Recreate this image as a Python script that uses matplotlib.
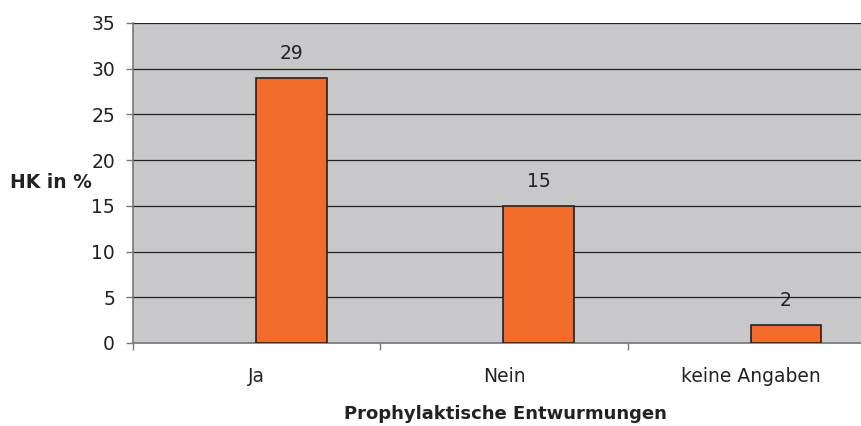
import matplotlib
matplotlib.use("Agg")
import matplotlib.pyplot as plt
from matplotlib.transforms import blended_transform_factory
import numpy as np

categories = ["Ja", "Nein", "keine Angaben"]
values = [29, 15, 2]
yticks = [0, 5, 10, 15, 20, 25, 30, 35]

BG = "#c8c8ca"
BAR = "#f26d2b"
INK = "#222222"
AXC = "#777777"
plt.rcParams.update({"font.family": ["DejaVu Sans"]})

W, H = 861, 426
fig = plt.figure(figsize=(W / 100, H / 100), dpi=100)
# plot area runs off the right edge, as in the source
ax = fig.add_axes([133 / W, (H - 343) / H, 742 / W, 320 / H])
ax.set_facecolor(BG)

x = np.arange(len(categories))
ax.bar(x + 0.14, values, width=0.285, color=BAR, edgecolor=INK,
       linewidth=1.2, zorder=3)
for xi, v in zip(x + 0.14, values):
    ax.annotate(f"{v:g}", (xi, v), xytext=(0, 13.5), textcoords="offset points",
                ha="center", va="baseline", fontsize=13.5, color=INK, zorder=4)

ax.set_xlim(-0.5, 2.5)
ax.set_ylim(0, 35)
ax.set_yticks(yticks)
ax.set_yticklabels([str(t) for t in yticks], fontsize=13.5, color=INK)
ax.yaxis.grid(True, color=INK, linewidth=0.9, zorder=1)
ax.set_axisbelow(True)

# tick marks sit on category boundaries, labels in the middle
ax.set_xticks(np.arange(-0.5, 2.6, 1.0))
ax.set_xticklabels([])
ax.tick_params(axis="x", length=5, width=1, color=AXC)
ax.tick_params(axis="y", length=5, width=1, color=AXC, pad=8)
lab_tr = blended_transform_factory(ax.transData, fig.transFigure)
for xi, c in zip(x, categories):
    ax.text(xi, (H - 382) / H, c, transform=lab_tr, ha="center",
            va="baseline", fontsize=13.5, color=INK)

for s in ("top", "right"):
    ax.spines[s].set_visible(False)
for s in ("left", "bottom"):
    ax.spines[s].set_color(AXC)
    ax.spines[s].set_linewidth(1.2)

fig.text(10 / W, (H - 188) / H, "HK in %", fontsize=13.5, weight="bold",
         ha="left", va="baseline", color=INK)
fig.text(505 / W, (H - 419) / H, "Prophylaktische Entwurmungen", fontsize=13,
         weight="bold", ha="center", va="baseline", color=INK)

fig.savefig("out.png", dpi=100, facecolor="white")
